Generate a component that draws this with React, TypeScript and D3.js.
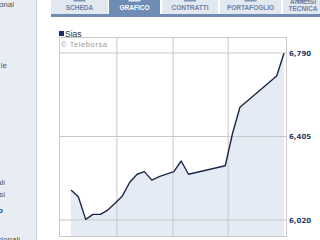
import React from "react";
import * as d3 from "d3";

const dayIndex = [0, 1, 2, 3, 4, 5, 6, 7, 8, 9, 10, 11, 12, 14, 15, 16, 21, 22, 23, 28, 29];
const prices = [6.158, 6.127, 6.023, 6.046, 6.046, 6.066, 6.097, 6.131, 6.194, 6.231, 6.243, 6.204, 6.22, 6.243, 6.292, 6.231, 6.27, 6.42, 6.54, 6.684, 6.789];
const yTicks = [6.02, 6.405, 6.79];
const yTickLabels = ["6,020", "6,405", "6,790"];
const xTickPos = [-1.55, 6.25, 13.9, 21.4, 29.0];
const xTickLabels = ["1.10.2009", "16.10.2009", "01.11.2009", "16.11.2009", "1.12.2009"];
const tabs = ["SCHEDA", "GRAFICO", "CONTRATTI", "PORTAFOGLIO", "ANALISI|TECNICA"];
const sideTexts = ["onal", "le", "ali", "si", "o", "zionali"];

export default function App() {
  const W = 320, H = 240;
  const plotL = 59, plotR = 286, plotT = 37, plotB = 236;
  const x = d3.scaleLinear().domain([0, 29]).range([71, 284]);
  const y = d3.scaleLinear().domain([6.02, 6.79]).range([220, 53]);
  const pts = dayIndex.map((d, i) => [d, prices[i]] as [number, number]);
  const line = d3.line<[number, number]>().x(d => x(d[0])).y(d => y(d[1]));
  const area = d3.area<[number, number]>().x(d => x(d[0])).y0(plotB).y1(d => y(d[1]));

  const tabX = [51, 109, 162, 220, 283];
  const tabW = [57, 51, 56, 61, 40];
  const sideY = [7, 68, 185, 197, 213, 242];
  const sideX = [14, 7, 5, 5, 3, 20];

  return (
    <svg width={W} height={H} style={{ position: "absolute", left: 0, top: 0, background: "#fff" }}
      fontFamily="Liberation Sans, Arial, sans-serif">
      {/* sidebar */}
      <rect x={0} y={0} width={36} height={H} fill="#e8edf3" />
      <line x1={36.5} x2={36.5} y1={0} y2={H} stroke="#cdd5df" />
      {sideTexts.map((t, i) => (
        <text key={t} x={sideX[i]} y={sideY[i]} textAnchor="end" fontSize={8}
          fill={i === 4 ? "#1d3f8f" : "#555"} fontWeight={i === 4 ? "bold" : "normal"}>{t}</text>
      ))}
      {/* tabs */}
      {tabs.map((t, i) => {
        const active = i === 1;
        const cx = tabX[i] + tabW[i] / 2;
        const parts = t.split("|");
        return (
          <g key={t}>
            <rect x={tabX[i]} y={0} width={tabW[i]} height={14} fill={active ? "#6f8cb4" : "#e2e8f0"} />
            <rect x={cx - 6} y={0} width={12} height={1.5} fill={active ? "#dfe7f1" : "#7f96b8"} />
            {parts.length === 1 ? (
              <text x={cx} y={9.5} textAnchor="middle" fontSize={6.5} fontWeight="bold"
                fill={active ? "#ffffff" : "#6c83a6"}>{t}</text>
            ) : (
              parts.map((p, k) => (
                <text key={p} x={cx} y={4 + k * 6.5} textAnchor="middle" fontSize={6.5} fontWeight="bold"
                  fill="#6c83a6">{p}</text>
              ))
            )}
          </g>
        );
      })}
      <rect x={51} y={14} width={269} height={3} fill="#6f8cb4" />
      {/* plot */}
      <path d={area(pts) || ""} fill="#e4ebf4" />
      {xTickPos.slice(1, 4).map((p, i) => (
        <line key={i} x1={x(p)} x2={x(p)} y1={plotT} y2={plotB} stroke="#c8c8c8" />
      ))}
      {yTicks.map((v, i) => (
        <line key={i} x1={plotL} x2={plotR} y1={y(v)} y2={y(v)} stroke="#c8c8c8" />
      ))}
      <rect x={plotL + 0.5} y={plotT + 0.5} width={plotR - plotL} height={plotB - plotT} fill="none" stroke="#c8c8c8" />
      <path d={line(pts) || ""} fill="none" stroke="#1c2748" strokeWidth={1.4} strokeLinejoin="round" />
      {yTicks.map((v, i) => (
        <text key={i} x={289} y={y(v) + 2.5} fontSize={7} fontWeight="bold" fill="#2b3b63"
          fontFamily="DejaVu Sans, Verdana, sans-serif">{yTickLabels[i]}</text>
      ))}
      {xTickLabels.map((t, i) => (
        <text key={t} x={x(xTickPos[i])} y={245} textAnchor="middle" fontSize={7} fill="#555">{t}</text>
      ))}
      {/* legend */}
      <rect x={59} y={31} width={5} height={5} fill="#1f2b6a" />
      <text x={65} y={37} fontSize={8.5} fill="#333">Sias</text>
      <text x={61} y={46.5} fontSize={7.5} fill="#9a9a9a" letterSpacing={0.6}>© Teleborsa</text>
    </svg>
  );
}
